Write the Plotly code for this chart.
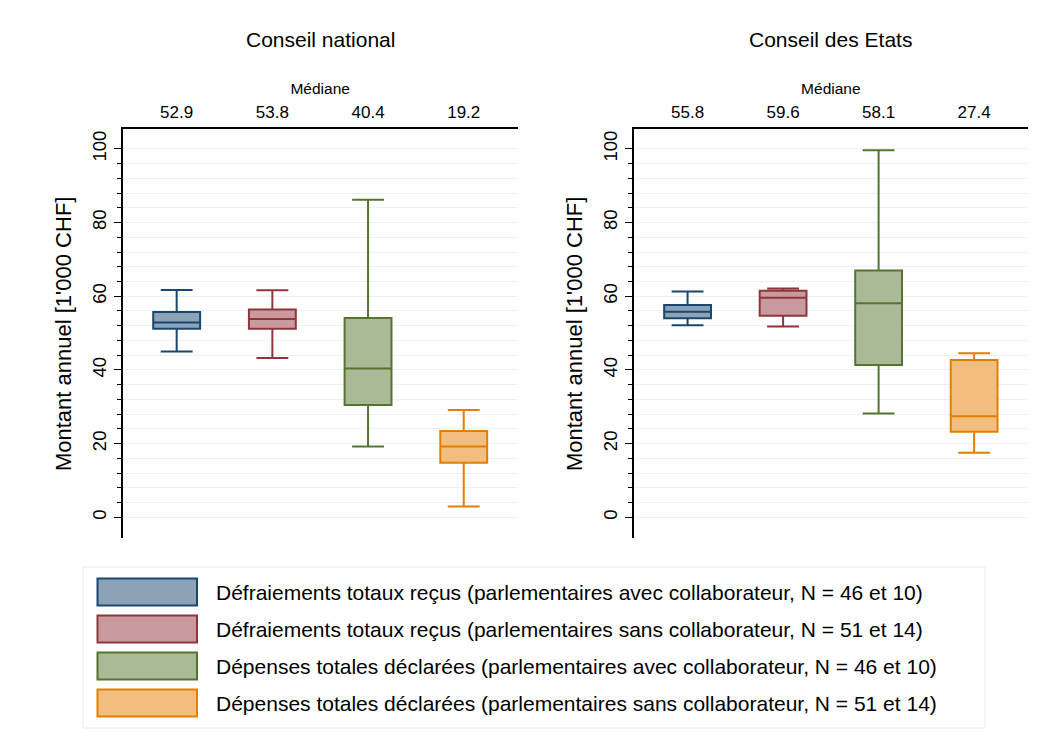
import plotly.graph_objects as go

# ---------------- data ----------------
panels = ["Conseil national", "Conseil des Etats"]
series = [
    "Défraiements totaux reçus (parlementaires avec collaborateur, N = 46 et 10)",
    "Défraiements totaux reçus (parlementaires sans collaborateur, N = 51 et 14)",
    "Dépenses totales déclarées (parlementaires avec collaborateur, N = 46 et 10)",
    "Dépenses totales déclarées (parlementaires sans collaborateur, N = 51 et 14)",
]
# per panel: values per series
lower_nat = [45.0, 43.2, 19.2, 2.9]
q1_nat = [51.2, 51.2, 30.5, 14.8]
median_nat = [52.9, 53.8, 40.4, 19.2]
q3_nat = [55.7, 56.4, 54.1, 23.4]
upper_nat = [61.7, 61.6, 86.2, 29.1]

lower_eta = [52.1, 51.8, 28.2, 17.5]
q1_eta = [54.0, 54.7, 41.3, 23.2]
median_eta = [55.8, 59.6, 58.1, 27.4]
q3_eta = [57.6, 61.5, 67.0, 42.7]
upper_eta = [61.3, 62.1, 99.6, 44.5]

y_ticks = [0, 20, 40, 60, 80, 100]
y_title = "Montant annuel [1'000 CHF]"
median_title = "Médiane"

# ---------------- styles ----------------
line_colors = ["#1a476f", "#90353b", "#55752f", "#e37e00"]
fill_colors = ["#8ca3b7", "#c89a9d", "#aaba97", "#f1be80"]
FONT = "Liberation Sans, Arial, Helvetica, sans-serif"
W, H = 1054, 747
OFF = 8  # page body margin

fig = go.Figure()

stats = [
    (lower_nat, q1_nat, median_nat, q3_nat, upper_nat),
    (lower_eta, q1_eta, median_eta, q3_eta, upper_eta),
]

for p, (lo, q1, me, q3, up) in enumerate(stats):
    xa = "x" if p == 0 else "x2"
    ya = "y" if p == 0 else "y2"
    for i in range(len(series)):
        fig.add_trace(go.Box(
            x=[i], q1=[q1[i]], median=[me[i]], q3=[q3[i]],
            lowerfence=[lo[i]], upperfence=[up[i]],
            width=0.49, whiskerwidth=0.68,
            line=dict(color=line_colors[i], width=2),
            fillcolor=fill_colors[i],
            name=series[i], showlegend=False,
            xaxis=xa, yaxis=ya, hoverinfo="skip",
        ))

def px_x(v):
    return (v - OFF) / W

def px_y(v):
    return 1 - (v - OFF) / H

x_dom = [(px_x(122.7), px_x(517.7)), (px_x(633.7), px_x(1028.0))]
y_dom = (px_y(538.3), px_y(129.3))

minor_vals = [v for v in range(0, 101, 4) if v % 20 != 0]

for p in range(2):
    me = stats[p][2]
    xkey = "xaxis" if p == 0 else "xaxis2"
    ykey = "yaxis" if p == 0 else "yaxis2"
    fig.update_layout(**{
        xkey: dict(
            domain=list(x_dom[p]), range=[-0.564, 3.564], side="top",
            anchor="y" if p == 0 else "y2",
            tickmode="array", tickvals=list(range(len(me))),
            ticktext=[f"{m:.1f}" for m in me],
            ticks="", ticklabelstandoff=3,
            showline=True, linecolor="black", linewidth=1.5,
            showgrid=False, zeroline=False,
            tickfont=dict(size=17, color="black", family=FONT),
            title=dict(text=median_title, standoff=4,
                       font=dict(size=15.5, color="black", family=FONT)),
            fixedrange=True,
        ),
        ykey: dict(
            domain=list(y_dom), range=[-5.7, 105.3],
            anchor="x" if p == 0 else "x2",
            tickmode="array", tickvals=y_ticks,
            ticktext=[str(t) for t in y_ticks],
            ticks="outside", ticklen=7, tickwidth=1.2, tickcolor="black",
            tickangle=-90, ticklabelstandoff=1,
            minor=dict(tickmode="array", tickvals=minor_vals, ticks="outside",
                       ticklen=4, tickwidth=1, tickcolor="black",
                       showgrid=True, gridcolor="#eaf2f3", gridwidth=1),
            showline=True, linecolor="black", linewidth=1.5,
            showgrid=True, gridcolor="#eaf2f3", gridwidth=1, zeroline=False,
            tickfont=dict(size=18.5, color="black", family=FONT),
            title=dict(text=y_title, standoff=11,
                       font=dict(size=22, color="black", family=FONT)),
            fixedrange=True,
        ),
    })

annotations = []
for p, name in enumerate(panels):
    annotations.append(dict(
        text=name, xref="paper", yref="paper",
        x=(x_dom[p][0] + x_dom[p][1]) / 2, y=px_y(40),
        xanchor="center", yanchor="middle", showarrow=False,
        font=dict(size=21, color="black", family=FONT),
    ))

shapes = [
    dict(type="rect", xref="paper", yref="paper",
         x0=px_x(83), x1=px_x(985), y0=px_y(728), y1=px_y(567),
         line=dict(color="#e4ecee", width=1), fillcolor="white", layer="below"),
]
row_y = [592, 629, 666, 703]
for i, s in enumerate(series):
    cy = row_y[i]
    shapes.append(dict(
        type="rect", xref="paper", yref="paper",
        x0=px_x(97.5), x1=px_x(197), y0=px_y(cy + 13.5), y1=px_y(cy - 13.5),
        line=dict(color=line_colors[i], width=2), fillcolor=fill_colors[i],
    ))
    annotations.append(dict(
        text=s, xref="paper", yref="paper", x=px_x(214), y=px_y(cy),
        xanchor="left", yanchor="middle", showarrow=False,
        font=dict(size=21, color="black", family=FONT),
    ))

fig.update_layout(
    width=W, height=H, margin=dict(l=0, r=0, t=0, b=0),
    paper_bgcolor="white", plot_bgcolor="white",
    boxmode="overlay", showlegend=False,
    annotations=annotations, shapes=shapes,
    font=dict(family=FONT, color="black"),
)

fig.write_html("out.html")
